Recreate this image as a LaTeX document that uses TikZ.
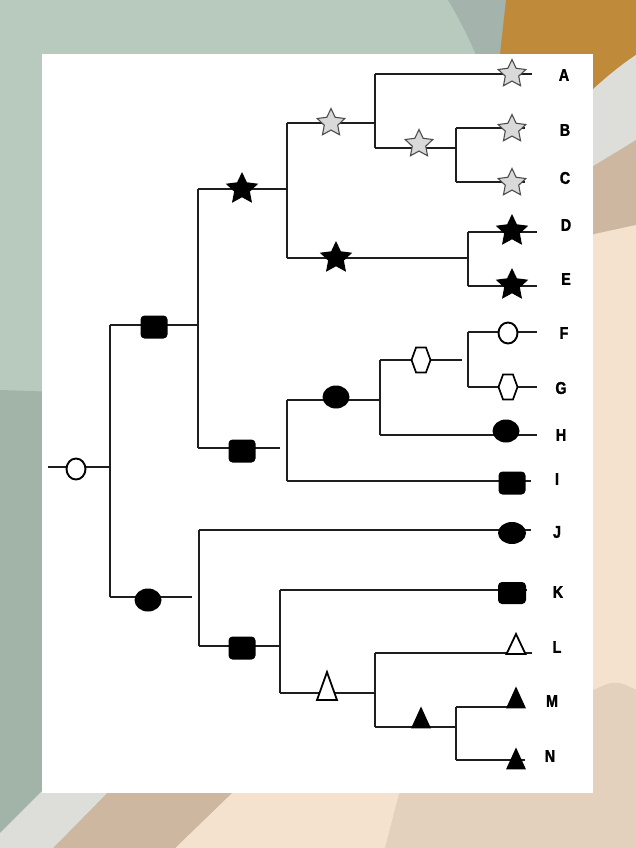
\documentclass[tikz,border=0pt]{standalone}
\usepackage{fontspec}
\setmainfont{Liberation Sans}
\newfontfamily\taxonfont[FakeStretch=0.84, FakeBold=1.6]{Liberation Sans Bold}
\usetikzlibrary{shapes.geometric, shapes.symbols}

\definecolor{sageLight}{HTML}{B8C9BE}
\definecolor{sageDark}{HTML}{A2B3A7}
\definecolor{sageMid}{HTML}{A4B3AB}
\definecolor{mustard}{HTML}{BF8A3A}
\definecolor{paleGrey}{HTML}{DDDEDA}
\definecolor{tanDark}{HTML}{CDB7A1}
\definecolor{tanLight}{HTML}{E3D0BD}
\definecolor{peach}{HTML}{F4E1CE}
\definecolor{starFill}{HTML}{D9D9D9}
\definecolor{starEdge}{HTML}{4D4D4D}
\definecolor{ink}{HTML}{1E1E1E}

\begin{document}
\begin{tikzpicture}[x=1pt, y=-1pt,
  branch/.style={draw=ink, line width=1.1pt},
  blackbox/.style={fill=black, rounded corners=4pt, minimum width=27, minimum height=23, inner sep=0},
  blackoval/.style={ellipse, fill=black, minimum width=27, minimum height=23, inner sep=0},
  openoval/.style={ellipse, draw=black, fill=white, line width=1.9pt, minimum width=19, minimum height=21, inner sep=0},
  greystar/.style={star, star points=5, star point ratio=2.05, draw=starEdge, fill=starFill, line width=1.1pt, minimum size=29, inner sep=0},
  blackstar/.style={star, star points=5, star point ratio=2.05, fill=black, minimum size=34, inner sep=0},
  hexmark/.style={signal, signal to=west and east, signal pointer angle=140, draw=black, fill=white, line width=1.7pt, minimum width=19, minimum height=25, inner sep=0},
  opentri/.style={isosceles triangle, isosceles triangle stretches, shape border rotate=90, draw=black, fill=white, line width=1.8pt, inner sep=0},
  blacktri/.style={isosceles triangle, isosceles triangle stretches, shape border rotate=90, fill=black, minimum width=20, minimum height=22, inner sep=0},
  taxon/.style={font=\taxonfont\fontsize{17}{17}\selectfont}
]
\useasboundingbox (0,0) rectangle (636,848);

% --- Background ---
\fill[sageLight] (0,0) rectangle (636,848);
\fill[sageDark] (0,390) -- (60,392) -- (60,848) -- (0,848) -- cycle;
\fill[sageMid] (448,0) .. controls (460,20) and (470,40) .. (478,60) -- (502,60) -- (506,0) -- cycle;
\fill[mustard] (506,0) -- (636,0) -- (636,55) .. controls (618,68) and (602,82) .. (590,92) -- (500,92) -- (500,54) -- cycle;
\fill[paleGrey] (590,92) .. controls (605,78) and (622,64) .. (636,55) -- (636,140) .. controls (620,150) .. (590,168) -- cycle;
\fill[tanDark] (590,168) .. controls (620,150) .. (636,140) -- (636,225) -- (590,235) -- cycle;
\fill[peach] (590,235) -- (636,225) -- (636,690) .. controls (615,680) .. (590,692) -- cycle;
\fill[tanLight] (590,692) .. controls (615,680) .. (636,690) -- (636,848) -- (385,848) -- (400,790) -- cycle;
\fill[peach] (235,790) -- (400,790) -- (385,848) -- (175,848) -- cycle;
\fill[tanDark] (110,790) -- (235,790) -- (175,848) -- (53,848) -- cycle;
\fill[paleGrey] (43,790) -- (110,790) -- (53,848) -- (0,848) -- (0,833) -- cycle;

% --- Card ---
\fill[white] (42,54) rectangle (593,793);

% --- Branch points ---
\coordinate (rs) at (48,467);  \coordinate (re) at (110,467);
\coordinate (us) at (110,325); \coordinate (ue) at (198,325);
\coordinate (ls) at (110,597); \coordinate (le) at (192,597);
\coordinate (ss) at (198,189); \coordinate (se) at (287,189);
\coordinate (qs) at (198,448); \coordinate (qe) at (280,448);
\coordinate (gs) at (287,123); \coordinate (ge) at (375,123);
\coordinate (bs) at (287,258); \coordinate (be) at (468,258);
\coordinate (cs) at (375,148); \coordinate (ce) at (456,148);
\coordinate (hs) at (287,400); \coordinate (he) at (380,400);
\coordinate (xs) at (380,360); \coordinate (xe) at (462,360);
\coordinate (ks) at (199,646); \coordinate (ke) at (280,646);
\coordinate (ts) at (280,693); \coordinate (te) at (375,693);
\coordinate (ms) at (375,727); \coordinate (me) at (456,727);

% --- Tips ---
\coordinate (As) at (375,74);  \coordinate (Ae) at (532,74);
\coordinate (Bs) at (456,128); \coordinate (Be) at (525,128);
\coordinate (Cs) at (456,182); \coordinate (Ce) at (525,182);
\coordinate (Ds) at (468,232); \coordinate (De) at (537,232);
\coordinate (Es) at (468,286); \coordinate (Ee) at (537,286);
\coordinate (Fs) at (468,332); \coordinate (Fe) at (537,332);
\coordinate (Gs) at (468,387); \coordinate (Ge) at (537,387);
\coordinate (Hs) at (380,435); \coordinate (He) at (537,435);
\coordinate (Is) at (287,481); \coordinate (Ie) at (531,481);
\coordinate (Js) at (199,530); \coordinate (Je) at (531,530);
\coordinate (Ks) at (280,590); \coordinate (Ke) at (527,590);
\coordinate (Ls) at (375,653); \coordinate (Le) at (532,653);
\coordinate (Ms) at (456,707); \coordinate (Me) at (525,707);
\coordinate (Ns) at (456,760); \coordinate (Ne) at (525,760);

% --- Horizontal branches ---
\draw[branch] (rs) -- (re);
\draw[branch] (us) -- (ue);  \draw[branch] (ls) -- (le);
\draw[branch] (ss) -- (se);  \draw[branch] (qs) -- (qe);
\draw[branch] (gs) -- (ge);  \draw[branch] (bs) -- (be);
\draw[branch] (cs) -- (ce);  \draw[branch] (hs) -- (he);
\draw[branch] (xs) -- (xe);  \draw[branch] (ks) -- (ke);
\draw[branch] (ts) -- (te);  \draw[branch] (ms) -- (me);
\draw[branch] (As) -- (Ae);  \draw[branch] (Bs) -- (Be);
\draw[branch] (Cs) -- (Ce);  \draw[branch] (Ds) -- (De);
\draw[branch] (Es) -- (Ee);  \draw[branch] (Fs) -- (Fe);
\draw[branch] (Gs) -- (Ge);  \draw[branch] (Hs) -- (He);
\draw[branch] (Is) -- (Ie);  \draw[branch] (Js) -- (Je);
\draw[branch] (Ks) -- (Ke);  \draw[branch] (Ls) -- (Le);
\draw[branch] (Ms) -- (Me);  \draw[branch] (Ns) -- (Ne);

% --- Vertical branches ---
\draw[branch] (us) -- (ls);
\draw[branch] (ss) -- (qs);
\draw[branch] (gs) -- (bs);
\draw[branch] (As) -- (cs);
\draw[branch] (Bs) -- (Cs);
\draw[branch] (Ds) -- (Es);
\draw[branch] (hs) -- (Is);
\draw[branch] (xs) -- (Hs);
\draw[branch] (Fs) -- (Gs);
\draw[branch] (Js) -- (ks);
\draw[branch] (Ks) -- (ts);
\draw[branch] (Ls) -- (ms);
\draw[branch] (Ms) -- (Ns);

% --- Character marks on branches ---
\node[openoval] (mRoot) at (76,469) {};
\node[blackbox] (mUp) at (154,327) {};
\node[blackoval] (mLow) at (148,600) {};
\node[blackstar] (mStar) at (242,189) {};
\node[greystar] (mGrey) at (331,123) {};
\node[greystar] (mBC) at (419,144) {};
\node[blackstar] (mDE) at (336,258) {};
\node[blackbox] (mQ) at (242,451) {};
\node[blackoval] (mH) at (336,397) {};
\node[hexmark] (mX) at (421,360) {};
\node[blackbox] (mK) at (242,648) {};
\node[opentri, minimum width=20, minimum height=28] (mT) at (327,693) {};
\node[blacktri] (mM) at (421,722) {};

% --- Tip marks ---
\node[greystar] (tA) at (512,74) {};
\node[greystar] (tB) at (512,129) {};
\node[greystar] (tC) at (512,183) {};
\node[blackstar] (tD) at (512,231) {};
\node[blackstar] (tE) at (512,285) {};
\node[openoval] (tF) at (508,333) {};
\node[hexmark] (tG) at (508,387) {};
\node[blackoval] (tH) at (506,431) {};
\node[blackbox] (tI) at (512,483) {};
\node[blackoval, minimum width=28, minimum height=22] (tJ) at (512,533) {};
\node[blackbox, minimum width=28, minimum height=22] (tK) at (512,593) {};
\node[opentri, minimum width=19, minimum height=20] (tL) at (516,648) {};
\node[blacktri] (tM) at (516,702) {};
\node[blacktri] (tN) at (516,763) {};

% --- Taxon names ---
\node[taxon] (labA) at (564,75) {A};
\node[taxon] (labB) at (565,130) {B};
\node[taxon] (labC) at (565,178) {C};
\node[taxon] (labD) at (566,225) {D};
\node[taxon] (labE) at (566,279) {E};
\node[taxon] (labF) at (564,333) {F};
\node[taxon] (labG) at (561,388) {G};
\node[taxon] (labH) at (561,435) {H};
\node[taxon] (labI) at (557,479) {I};
\node[taxon] (labJ) at (557,532) {J};
\node[taxon] (labK) at (558,592) {K};
\node[taxon] (labL) at (557,647) {L};
\node[taxon] (labM) at (552,701) {M};
\node[taxon] (labN) at (550,756) {N};

\end{tikzpicture}
\end{document}
